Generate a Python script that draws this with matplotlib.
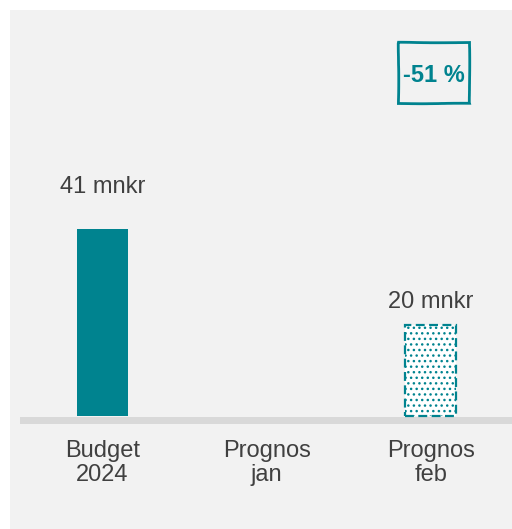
import matplotlib
matplotlib.use("Agg")
import matplotlib.pyplot as plt
import matplotlib.transforms as mtransforms
from matplotlib.patches import Rectangle

# chart data
categories = ["Budget\n2024", "Prognos\njan", "Prognos\nfeb"]
values = [41, None, 20]
value_unit = "mnkr"

TEAL = "#00838F"
TEXT = "#404040"
PANEL = "#F2F2F2"
AXIS_LINE = "#D9D9D9"


def main():
    plt.rcParams["font.family"] = ["Liberation Sans", "DejaVu Sans"]

    W, H = 512, 529
    fig = plt.figure(figsize=(W / 100, H / 100), dpi=100)
    fig.patch.set_facecolor("white")

    # light gray panel behind the chart
    fig.add_artist(Rectangle((10 / W, 0), 1 - 10 / W, 1 - 10 / H,
                             transform=fig.transFigure, facecolor=PANEL,
                             edgecolor="none", zorder=0))

    ax = fig.add_axes([20 / W, (H - 430) / H, (512 - 20) / W, (430 - 10) / H])
    ax.set_facecolor("none")
    for s in ax.spines.values():
        s.set_visible(False)

    px_per_unit = 4.57
    ax.set_ylim(-(430 - 416) / px_per_unit, (416 - 10) / px_per_unit)
    ax.set_xlim(-0.503, 2.494)

    x = list(range(len(categories)))
    width = 0.31

    # budget bar solid, forecast bar dotted with dashed edge
    label_pad = [22, 8]
    for i, v in enumerate(values):
        if v is None:
            continue
        if i == 0:
            ax.bar(x[i], v, width=width, color=TEAL, zorder=3)
        else:
            ax.bar(x[i], v, width=width, facecolor="white", edgecolor=TEAL,
                   hatch="...", linewidth=1.6, linestyle=(0, (4, 2)), zorder=3)
        ax.annotate(f"{v} {value_unit}", (x[i], v), xytext=(0, label_pad[0 if i == 0 else 1]),
                    textcoords="offset points", ha="center", va="bottom",
                    fontsize=17, color=TEXT)

    # thick gray baseline, shifted just below zero
    trans = mtransforms.offset_copy(ax.transData, fig=fig, x=0, y=-3.5, units="dots")
    ax.plot([-1, 3], [0, 0], color=AXIS_LINE, linewidth=5, transform=trans,
            zorder=2, solid_capstyle="butt")

    ax.set_xticks(x)
    ax.set_xticklabels(categories, fontsize=17, color=TEXT, linespacing=1.15)
    ax.tick_params(axis="x", length=0, pad=7)
    ax.set_yticks([])

    # change box in the top right corner
    change = (values[2] - values[0]) / values[0] * 100
    box = Rectangle((398 / W, 1 - 103 / H), 71 / W, 61 / H, transform=fig.transFigure,
                    facecolor="none", edgecolor=TEAL, linewidth=2, zorder=5)
    box.set_sketch_params(scale=0.25, length=120, randomness=4)
    fig.add_artist(box)
    fig.text(434 / W, 1 - 75 / H, f"{change:.0f} %", ha="center", va="center",
             fontsize=17, fontweight="bold", color=TEAL)

    fig.savefig("out.png", dpi=100)


if __name__ == "__main__":
    main()
